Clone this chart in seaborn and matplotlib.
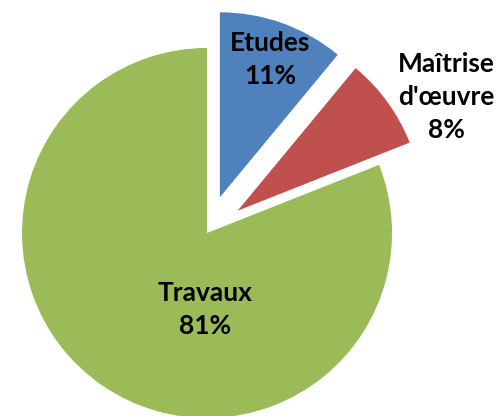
import matplotlib
matplotlib.use("Agg")
import matplotlib.pyplot as plt
import seaborn as sns

# Data
categories = ["Etudes", "Maîtrise\nd'œuvre", "Travaux"]
shares = [11, 8, 81]
colors = ["#4F81BD", "#C0504D", "#9BBB59"]
explode = [0.205, 0.205, 0.0]

sns.set_theme(style="white")
plt.rcParams['font.family'] = ['Lato', 'DejaVu Sans']

fig = plt.figure(figsize=(5.01, 4.16), dpi=100)
ax = fig.add_axes([0, 0, 1, 1])

ax.pie(shares, colors=colors, explode=explode, startangle=90,
       counterclock=False, radius=1, center=(0, 0),
       wedgeprops=dict(linewidth=0))

# Label positions (data coordinates)
label_pos = [(0.34, 0.935), (1.292, 0.735), (-0.011, -0.416)]
for name, val, (x, y) in zip(categories, shares, label_pos):
    ax.text(x, y, f"{name}\n{val}%", ha="center", va="center",
            fontsize=19, fontweight="bold", color="black", linespacing=1.45)

ax.set_xlim(-1.119, 1.589)
ax.set_ylim(-0.989, 1.259)
ax.axis("off")

fig.savefig("out.png", dpi=100)
